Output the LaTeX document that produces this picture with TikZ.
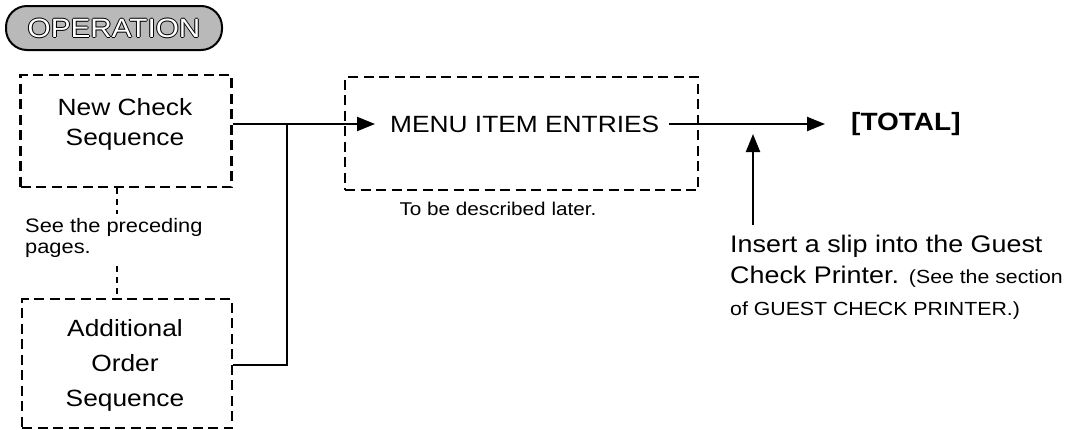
\documentclass[tikz,border=0pt]{standalone}
\usepackage{fontspec}
\setmainfont{Liberation Sans}[FakeStretch=1.12]
\usetikzlibrary{arrows.meta}
\newcommand\otltext[1]{\rlap{\raisebox{1pt}{#1}}\rlap{\raisebox{-1pt}{#1}}\rlap{\hspace*{1pt}#1}\rlap{\hspace*{-1pt}#1}\textcolor{white}{#1}}
\begin{document}
\begin{tikzpicture}[x=1pt,y=-1pt,
 dbox/.style={draw, line width=2.2pt, dash pattern=on 10pt off 5.5pt, rectangle, inner sep=0pt},
 conn/.style={draw, line width=2.2pt},
 arr/.style={conn, -{Triangle[length=18pt,width=14pt]}},
 dconn/.style={draw, line width=1.8pt, dash pattern=on 6pt off 5pt},
 big/.style={font=\fontsize{23.5}{30}\selectfont, align=center, inner sep=0pt},
]
\useasboundingbox (0,0) rectangle (1069,429);

\node[draw, line width=2pt, fill=gray!55, rounded corners=21pt, minimum width=216pt, minimum height=44pt, inner sep=0pt, font=\fontsize{26.5}{26}\selectfont] (op) at (114,28) {\otltext{OPERATION}};

\node[dbox, minimum width=211pt, minimum height=112pt] (ncb) at (126,131) {};
\node[big] (nct) at (125,124) {New Check\\Sequence};

\node[dbox, minimum width=210pt, minimum height=129pt] (ab) at (127,363.5) {};
\node[big, font=\fontsize{23.5}{35}\selectfont] (at) at (125,365) {Additional\\Order\\Sequence};

\node[inner sep=0pt, align=left, anchor=west, font=\fontsize{19.5}{20.5}\selectfont] (see) at (25,238) {See the preceding\\pages.};

\coordinate (d1) at (117,214);
\coordinate (d2) at (117,266);
\draw[dconn] (ncb.south -| d1) -- (d1);
\draw[dconn] (d2) -- (ab.north -| d2);

\coordinate (j) at (287,124);
\draw[conn] (ncb.east |- nct) -- (j);
\draw[conn] (ab.east |- at) -- (at -| j) -- (j);

\node[inner sep=0pt, anchor=west, font=\fontsize{23.5}{24}\selectfont] (mt) at (390,124) {MENU ITEM ENTRIES};
\draw[arr, shorten >=15pt] (j) -- (mt.west);

\node[dbox, minimum width=353pt, minimum height=113pt] (mb) at (521.5,133.5) {};
\node[inner sep=0pt, font=\fontsize{18.5}{18}\selectfont] (tb) at (498,209) {To be described later.};

\node[inner sep=0pt, anchor=west, font=\bfseries\fontsize{25}{25}\selectfont] (tt) at (851,124) {[TOTAL]};
\draw[arr, shorten <=10pt, shorten >=26pt] (mt.east) -- (tt.west);

\coordinate (vb) at (753,225);
\coordinate (vt) at (753,134);
\draw[arr] (vb) -- (vt);

\node[anchor=base west, inner sep=0pt, font=\fontsize{24}{24}\selectfont] (i1) at (730,252) {Insert a slip into the Guest};
\node[anchor=base west, inner sep=0pt, font=\fontsize{24}{24}\selectfont] (i2) at (730,283) {Check Printer. {\fontsize{19}{19}\selectfont (See the section}};
\node[anchor=base west, inner sep=0pt, font=\fontsize{19}{19}\selectfont] (i3) at (730,315) {of GUEST CHECK PRINTER.)};
\end{tikzpicture}
\end{document}
